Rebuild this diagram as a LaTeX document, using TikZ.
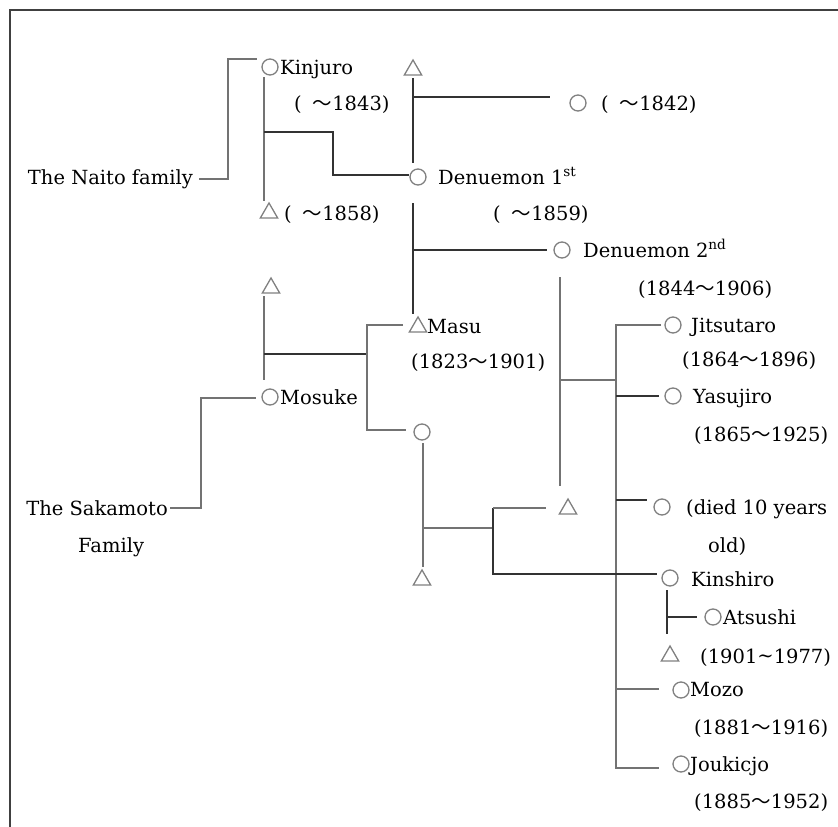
\documentclass[tikz,border=0pt]{standalone}
\usepackage{fontspec}
\setmainfont{DejaVu Serif}
\newfontfamily\cjk{Noto Sans CJK JP}
\usetikzlibrary{shapes.geometric}
\newcommand{\wv}{{\cjk ～}}
\newcommand{\gapw}{\hspace{11pt}}
\begin{document}
\begin{tikzpicture}[x=1pt,y=-1pt,
  lbl/.style={anchor=base west,yshift=-7pt,inner sep=0pt,font=\fontsize{19.5}{23}\selectfont,text=black},
  rlbl/.style={anchor=base east,yshift=-7pt,inner sep=0pt,font=\fontsize{19.5}{23}\selectfont,text=black},
  male/.style={circle,draw=black!50,line width=1.3pt,minimum size=16pt,inner sep=0pt},
  fem/.style={regular polygon,regular polygon sides=3,draw=black!50,line width=1.3pt,minimum size=20pt,inner sep=0pt},
  dk/.style={draw=black!80,line width=2pt},
  lt/.style={draw=black!55,line width=2pt}]
\useasboundingbox (0,0) rectangle (838,827);
% frame
\draw[black!75,line width=2pt] (838,10) -- (10,10) -- (10,827);

% symbols
\node[male] (ckin) at (270,67) {};
\node[fem] (ttop) at (413,70) {};
\node[male] (c1842) at (578,103) {};
\node[fem] (t1858) at (269,213) {};
\node[male] (cden1) at (418,177) {};
\node[male] (cden2) at (562,250) {};
\node[fem] (tmasu) at (418,327) {};
\node[male] (cwife) at (422,432) {};
\node[fem] (tbot) at (422,580) {};
\node[fem] (tsak) at (271,288) {};
\node[male] (cmos) at (270,397) {};
\node[fem] (tmid) at (568,509) {};
\node[male] (cjit) at (673,325) {};
\node[male] (cyas) at (673,396) {};
\node[male] (cdied) at (662,507) {};
\node[male] (ckins) at (670,578) {};
\node[male] (catsu) at (713,617) {};
\node[fem] (tkins) at (670,656) {};
\node[male] (cmozo) at (681,690) {};
\node[male] (cjou) at (681,764) {};

% labels
\node[lbl] (lkin) at (280,67) {Kinjuro};
\node[lbl] (l1843) at (294,103) {(\gapw\wv1843)};
\node[lbl] (l1842) at (601,103) {(\gapw\wv1842)};
\node[rlbl] (naito) at (193,177) {The Naito family};
\node[lbl] (lden1) at (438,177) {Denuemon 1\textsuperscript{st}};
\node[lbl] (l1859) at (493,213) {(\gapw\wv1859)};
\node[lbl] (l1858) at (284,213) {(\gapw\wv1858)};
\node[lbl] (lden2) at (583,250) {Denuemon 2\textsuperscript{nd}};
\node[lbl] (l1844) at (638,288) {(1844\wv1906)};
\node[lbl] (lmasu) at (427,326) {Masu};
\node[lbl] (l1823) at (411,361) {(1823\wv1901)};
\node[lbl] (lmos) at (280,397) {Mosuke};
\node[rlbl] (sak) at (168,508) {The Sakamoto};
\node[lbl] (fam) at (78,545) {Family};
\node[lbl] (ljit) at (691,325) {Jitsutaro};
\node[lbl] (l1864) at (682,359) {(1864\wv1896)};
\node[lbl] (lyas) at (693,396) {Yasujiro};
\node[lbl] (l1865) at (694,434) {(1865\wv1925)};
\node[lbl] (ldied) at (686,507) {(died 10 years};
\node[lbl] (lold) at (708,545) {old)};
\node[lbl] (lkins) at (691,579) {Kinshiro};
\node[lbl] (latsu) at (723,617) {Atsushi};
\node[lbl] (l1901) at (700,656) {(1901\raisebox{1pt}{\textasciitilde}1977)};
\node[lbl] (lmozo) at (690,689) {Mozo};
\node[lbl] (l1881) at (694,727) {(1881\wv1916)};
\node[lbl] (ljou) at (690,764) {Joukicjo};
\node[lbl] (l1885) at (694,801) {(1885\wv1952)};

% junction coordinates
\coordinate (nj) at (228,59);
\coordinate (ne) at (257,59);
\coordinate (kv1) at (264,77);
\coordinate (kv2) at (264,201);
\coordinate (kb) at (264,132);
\coordinate (ks) at (333,132);
\coordinate (kd) at (409,175);
\coordinate (tv1) at (413,78);
\coordinate (tv2) at (413,163);
\coordinate (th) at (413,97);
\coordinate (the) at (550,97);
\coordinate (dv1) at (413,203);
\coordinate (dv2) at (413,314);
\coordinate (dh) at (413,250);
\coordinate (dhe) at (547,250);
\coordinate (d2v1) at (560,277);
\coordinate (d2v2) at (560,486);
\coordinate (d2h) at (560,380);
\coordinate (bus) at (616,380);
\coordinate (bt) at (616,325);
\coordinate (bb) at (616,768);
\coordinate (bjit) at (661,325);
\coordinate (byas1) at (616,396);
\coordinate (byas2) at (659,396);
\coordinate (bdie1) at (616,500);
\coordinate (bdie2) at (647,500);
\coordinate (bmoz1) at (616,689);
\coordinate (bmoz2) at (659,689);
\coordinate (bjou) at (659,768);
\coordinate (sv1) at (264,296);
\coordinate (sv2) at (264,380);
\coordinate (sh) at (264,354);
\coordinate (mj) at (367,354);
\coordinate (mt) at (367,325);
\coordinate (mb) at (367,430);
\coordinate (mte) at (403,325);
\coordinate (mbe) at (406,430);
\coordinate (wv1) at (423,443);
\coordinate (wv2) at (423,567);
\coordinate (wh) at (423,528);
\coordinate (kj) at (493,528);
\coordinate (kt) at (493,508);
\coordinate (kte) at (546,508);
\coordinate (kbj) at (493,574);
\coordinate (kbe) at (657,574);
\coordinate (ake) at (667,590);
\coordinate (akb) at (667,634);
\coordinate (akh) at (667,617);
\coordinate (akhe) at (697,617);
\coordinate (sk) at (201,398);
\coordinate (ske) at (256,398);

% connectors
\draw[lt] ([xshift=6pt]naito.east) -| (nj) -- (ne);
\draw[lt] (kv1) -- (kv2);
\draw[dk] (kb) -- (ks) |- (kd);
\draw[dk] (tv1) -- (tv2);
\draw[dk] (th) -- (the);
\draw[dk] (dv1) -- (dv2);
\draw[dk] (dh) -- (dhe);
\draw[lt] (d2v1) -- (d2v2);
\draw[lt] (d2h) -- (bus);
\draw[lt] (bjit) -- (bt) -- (bb) -- (bjou);
\draw[dk] (byas1) -- (byas2);
\draw[dk] (bdie1) -- (bdie2);
\draw[lt] (bmoz1) -- (bmoz2);
\draw[lt] (sv1) -- (sv2);
\draw[dk] (sh) -- (mj);
\draw[lt] (mte) -- (mt) -- (mb) -- (mbe);
\draw[lt] (wv1) -- (wv2);
\draw[lt] (wh) -- (kj);
\draw[dk] (kt) -- (kbj) -- (kbe);
\draw[lt] (kt) -- (kte);
\draw[dk] (ake) -- (akb);
\draw[dk] (akh) -- (akhe);
\draw[lt] ([xshift=2pt]sak.east) -| (sk) -- (ske);
\end{tikzpicture}
\end{document}
